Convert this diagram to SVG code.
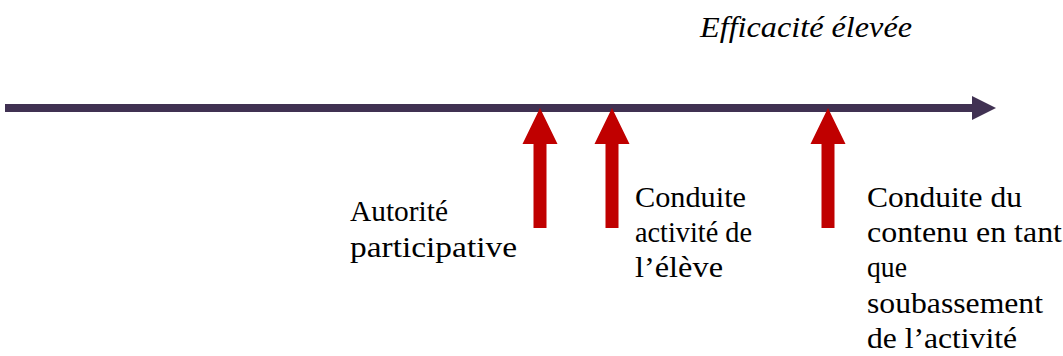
<svg xmlns="http://www.w3.org/2000/svg" width="1063" height="356" viewBox="0 0 1063 356">
<defs>
<style type="text/css">
.t{font-family:'Liberation Serif','Times New Roman',serif;font-size:29px;fill:#000000}
.it{font-style:italic}
.axis{fill:#403152}
.up{fill:#C00000}
</style>
</defs>
<rect width="1063" height="356" fill="#ffffff"/>
<g id="connectors">
<g id="axis">
<rect class="axis" x="5" y="104" width="969" height="8"/>
<polygon class="axis" points="972,96 996,108 972,120"/>
</g>
<g id="arrow1"><polygon class="up" points="540,108 557.5,144 546.5,144 546.5,228 533.5,228 533.5,144 522.5,144"/></g>
<g id="arrow2"><polygon class="up" points="612,108 629.5,144 618.5,144 618.5,228 605.5,228 605.5,144 594.5,144"/></g>
<g id="arrow3"><polygon class="up" points="828,108 845.5,144 834.5,144 834.5,228 821.5,228 821.5,144 810.5,144"/></g>
</g>
<g id="title"><text class="t it" font-family="Liberation Serif" x="700" y="37" textLength="212" lengthAdjust="spacingAndGlyphs">Efficacité élevée</text></g>
<g id="label-autorite">
<text class="t" font-family="Liberation Serif" x="350" y="221" textLength="98" lengthAdjust="spacingAndGlyphs">Autorité</text>
<text class="t" font-family="Liberation Serif" x="350" y="257" textLength="167" lengthAdjust="spacingAndGlyphs">participative</text>
</g>
<g id="label-eleve">
<text class="t" font-family="Liberation Serif" x="635" y="207" textLength="111" lengthAdjust="spacingAndGlyphs">Conduite</text>
<text class="t" font-family="Liberation Serif" x="635" y="242" textLength="117" lengthAdjust="spacingAndGlyphs">activité de</text>
<text class="t" font-family="Liberation Serif" x="635" y="277" textLength="88" lengthAdjust="spacingAndGlyphs">l’élève</text>
</g>
<g id="label-contenu">
<text class="t" font-family="Liberation Serif" x="867" y="207" textLength="155" lengthAdjust="spacingAndGlyphs">Conduite du</text>
<text class="t" font-family="Liberation Serif" x="867" y="242" textLength="195" lengthAdjust="spacingAndGlyphs">contenu en tant</text>
<text class="t" font-family="Liberation Serif" x="867" y="277" textLength="40" lengthAdjust="spacingAndGlyphs">que</text>
<text class="t" font-family="Liberation Serif" x="867" y="313" textLength="176" lengthAdjust="spacingAndGlyphs">soubassement</text>
<text class="t" font-family="Liberation Serif" x="867" y="348" textLength="150" lengthAdjust="spacingAndGlyphs">de l’activité</text>
</g>
</svg>
